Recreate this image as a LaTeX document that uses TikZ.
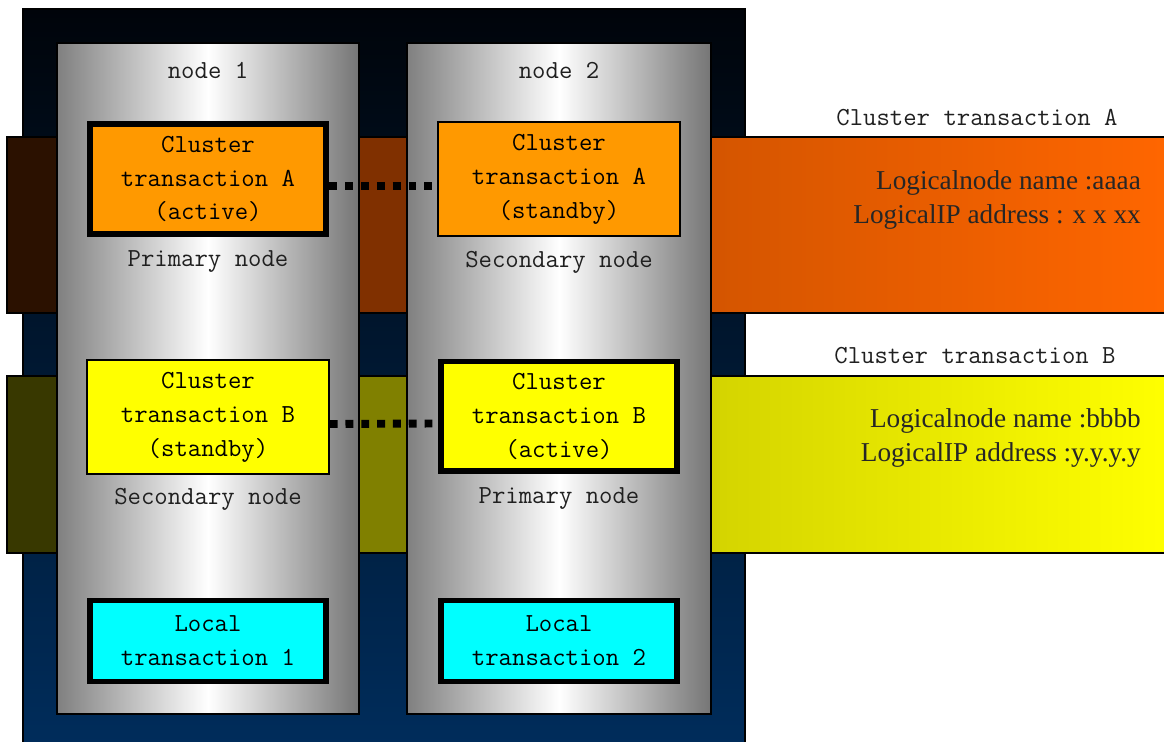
\documentclass[tikz,border=0pt]{standalone}
\usepackage{fontspec}
\newfontfamily\infofont{Liberation Serif}
\newcommand\boxtextfont{\ttfamily\fontsize{14.8}{19.3}\selectfont}
\newcommand\infotextfont{\infofont\fontsize{15.5}{19.3}\selectfont}

\definecolor{outertop}{RGB}{0,4,10}
\definecolor{outerbot}{RGB}{0,46,94}
\definecolor{bandAleft}{RGB}{43,17,0}
\definecolor{bandAmid}{RGB}{128,48,0}
\definecolor{bandAone}{RGB}{212,85,0}
\definecolor{bandAtwo}{RGB}{255,102,0}
\definecolor{bandBleft}{RGB}{56,56,0}
\definecolor{bandBmid}{RGB}{128,128,0}
\definecolor{bandBone}{RGB}{212,212,0}
\definecolor{bandBtwo}{RGB}{255,255,0}
\definecolor{txorange}{RGB}{255,153,0}
\definecolor{txyellow}{RGB}{255,255,0}
\definecolor{txcyan}{RGB}{0,255,255}
\definecolor{captiongray}{RGB}{32,32,32}

\tikzstyle{column}=[draw=black, line width=0.8pt, inner sep=0pt, left color=gray, right color=gray!92!black, middle color=white]
\tikzstyle{txbox}=[draw, line width=0.8pt, inner sep=0pt, minimum width=4.84cm, minimum height=2.28cm, align=center, font=\boxtextfont]
\tikzstyle{active}=[line width=3.4pt, minimum width=4.74cm, minimum height=2.2cm]
\tikzstyle{local}=[txbox, active, fill=txcyan, minimum height=1.62cm]
\tikzstyle{caption}=[text=captiongray, font=\boxtextfont]
\tikzstyle{info}=[anchor=east, align=right, text=black!85, font=\infotextfont]
\tikzstyle{link}=[draw, line width=4.5pt, dash pattern=on 4.5pt off 4.5pt]

\begin{document}
\begin{tikzpicture}[x=0.02cm, y=-0.02cm]
	    \useasboundingbox (0,0) rectangle (1164,742);
	    % housing
	    \shade[top color=outertop, bottom color=outerbot, draw=black, line width=0.6pt] (23,9) rectangle (745,770);
	    % transaction bands
	    \foreach \top/\bot/\cl/\cm/\ca/\cb in {137/313/bandAleft/bandAmid/bandAone/bandAtwo, 376/553/bandBleft/bandBmid/bandBone/bandBtwo} {
	        \fill[\cl] (7,\top) rectangle (57,\bot);
	        \fill[\cm] (359,\top) rectangle (407,\bot);
	        \shade[left color=\ca, right color=\cb] (711,\top) rectangle (1170,\bot);
	        \draw[line width=0.8pt] (1170,\top) -- (7,\top) -- (7,\bot) -- (1170,\bot);
	    }
	    % nodes
	    \node[column, minimum width=6.04cm, minimum height=13.42cm] (col1) at (208,378.5) {};
	    \node[column, minimum width=6.08cm, minimum height=13.42cm] (col2) at (559,378.5) {};
	    \foreach \pos/\name/\txt in {{(208,70)/name1/node 1}, {(559,70)/name2/node 2}, {(208,262)/role1/Primary node}, {(559,262)/role2/Secondary node}, {(208,499)/role3/Secondary node}, {(559,499)/role4/Primary node}}
	        \node[caption] (\name) at \pos {\txt};
	    % cluster transactions
	    \node[txbox, active, fill=txorange] (ctA1) at (208,179) {Cluster\\transaction A\\(active)};
	    \node[txbox, fill=txorange] (ctA2) at (559,179) {Cluster\\transaction A\\(standby)};
	    \node[txbox, fill=txyellow] (ctB1) at (208,417) {Cluster\\transaction B\\(standby)};
	    \node[txbox, active, fill=txyellow] (ctB2) at (559,416.5) {Cluster\\transaction B\\(active)};
	    \node[local] (lt1) at (208,641) {Local\\transaction 1};
	    \node[local] (lt2) at (559,641) {Local\\transaction 2};
	    \foreach \source/ \dest in {ctA1/ctA2, ctB1/ctB2}
	        \path[link] ([yshift=-0.14cm]\source.east) -- ([yshift=-0.14cm]\dest.west);
	    % logical names
	    \node[caption] (titleA) at (977,118) {Cluster transaction A};
	    \node[caption] (titleB) at (975,356) {Cluster transaction B};
	    \node[info] (infoA) at (1147,200) {Logicalnode name :aaaa\\LogicalIP address : x x xx};
	    \node[info] (infoB) at (1147,438) {Logicalnode name :bbbb\\LogicalIP address :y.y.y.y};
	\end{tikzpicture}
\end{document}
